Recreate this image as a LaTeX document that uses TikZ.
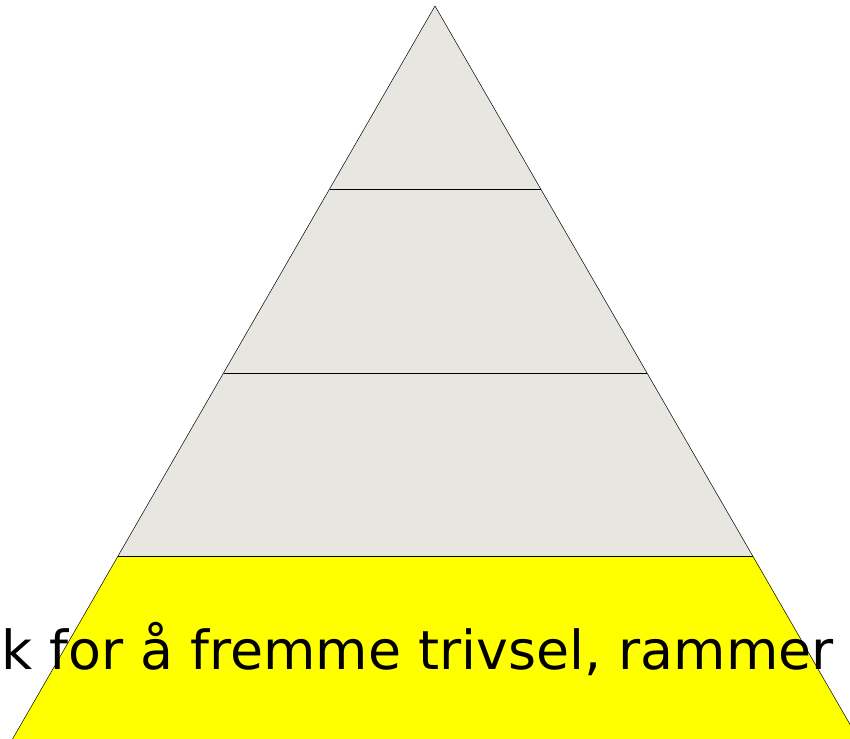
\documentclass[tikz,border=0pt]{standalone}
\usepackage{fontspec}
\newfontfamily\labelfont{DejaVu Sans}
\definecolor{layergray}{HTML}{E8E6E0}
\definecolor{layeryellow}{HTML}{FFFF00}
\tikzset{
  layer/.style={draw=black, line width=0.5pt},
  bigtext/.style={font=\labelfont\fontsize{53.8}{60}\selectfont, inner sep=0pt, anchor=base west}
}
\begin{document}
\begin{tikzpicture}[x=1pt,y=1pt]
\useasboundingbox (0,0) rectangle (850,738);
\clip (0,0) rectangle (850,738);
\coordinate (apex) at (435,732);
\coordinate (l1) at (330,549);
\coordinate (r1) at (541,549);
\coordinate (l2) at (224,365);
\coordinate (r2) at (647,365);
\coordinate (l3) at (118,182);
\coordinate (r3) at (753,182);
\coordinate (l4) at (12,-2);
\coordinate (r4) at (859,-2);
\fill[layergray] (apex) -- (r3) -- (l3) -- cycle;
\fill[layeryellow] (l3) -- (r3) -- (r4) -- (l4) -- cycle;
\draw[layer] (l4) -- (apex) -- (r4);
\draw[layer] (l1) -- (r1);
\draw[layer] (l2) -- (r2);
\draw[layer] (l3) -- (r3);
\node[bigtext] (label) at (1,68) {k for å fremme trivsel, rammer};
\end{tikzpicture}
\end{document}
